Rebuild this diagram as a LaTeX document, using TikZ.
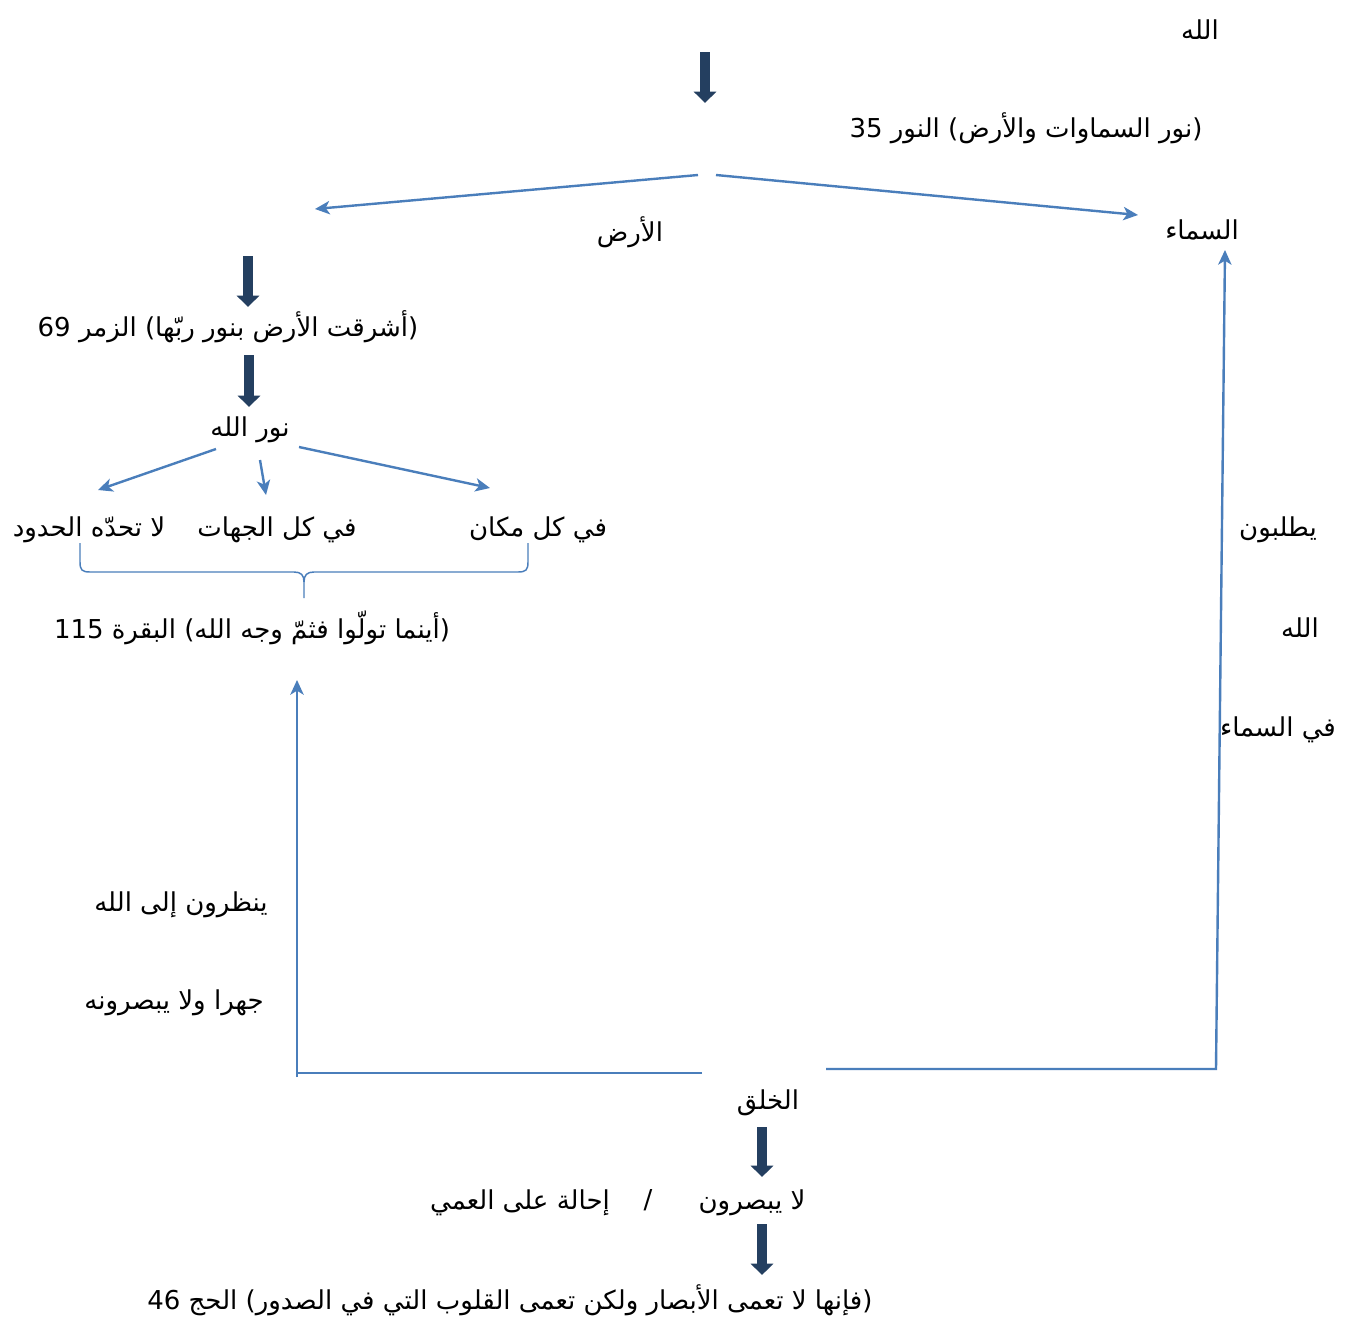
\documentclass[tikz,border=0pt]{standalone}
\usepackage{fontspec}
\newfontfamily\arabicfont[Script=Arabic]{DejaVu Sans}
\TeXXeTstate=1
\usetikzlibrary{arrows.meta}
\definecolor{lineblue}{HTML}{4A7EBB}
\definecolor{darknavy}{HTML}{243F60}
\begin{document}
\begin{tikzpicture}[x=0.75pt,y=-0.75pt,
  txt/.style={inner sep=0pt,font=\arabicfont\fontsize{19.5}{23}\selectfont},
  bigarrow/.style={draw=darknavy,line width=7.5pt,-{Triangle[width=16.5pt,length=8.5pt]}},
  bluearrow/.style={draw=lineblue,line width=1.8pt,-{Stealth[width=10pt,length=11pt,inset=3pt]}},
  blueline/.style={draw=lineblue,line width=1.8pt},
  bracestyle/.style={draw=lineblue,line width=1.1pt}]
\useasboundingbox[fill=white] (0,0) rectangle (1354,1332);
% texts
\node[txt] (allahtop) at (1200,30) {\beginR الله\endR};
\node[txt] (q35) at (1026,128) {\beginR (نور السماوات والأرض) النور 35\endR};
\node[txt] (ard) at (630,232) {\beginR الأرض\endR};
\node[txt] (sama) at (1202,230) {\beginR السماء\endR};
\node[txt] (q69) at (228,327) {\beginR (أشرقت الأرض بنور ربّها) الزمر 69\endR};
\node[txt] (nurallah) at (250,430) {\beginR نور الله\endR};
\node[txt] (l1) at (89,530) {\beginR لا تحدّه الحدود\endR};
\node[txt] (l2) at (277,530) {\beginR في كل الجهات\endR};
\node[txt] (l3) at (538,530) {\beginR في كل مكان\endR};
\node[txt] (q115) at (252,628) {\beginR (أينما تولّوا فثمّ وجه الله) البقرة 115\endR};
\node[txt,anchor=east] (yanzur) at (268,905) {\beginR ينظرون إلى الله\endR};
\node[txt,anchor=east] (jahran) at (264,1003) {\beginR جهرا ولا يبصرونه\endR};
\node[txt] (yatlub) at (1278,530) {\beginR يطلبون\endR};
\node[txt] (allahr) at (1300,628) {\beginR الله\endR};
\node[txt] (fissama) at (1278,730) {\beginR في السماء\endR};
\node[txt] (khalq) at (768,1103) {\beginR الخلق\endR};
\node[txt] (layubsir) at (752,1203) {\beginR لا يبصرون\endR};
\node[txt] (slash) at (648,1200) {/};
\node[txt] (ihala) at (520,1203) {\beginR إحالة على العمي\endR};
\node[txt] (q46) at (510,1300) {\beginR (فإنها لا تعمى الأبصار ولكن تعمى القلوب التي في الصدور) الحج 46\endR};
% connector end points
\coordinate (a1s) at (705,52);   \coordinate (a1e) at (705,103);
\coordinate (b1s) at (698,175);  \coordinate (b1e) at (315,209);
\coordinate (b2s) at (716,175);  \coordinate (b2e) at (1138,215);
\coordinate (a2s) at (248,256);  \coordinate (a2e) at (248,307);
\coordinate (a3s) at (249,355);  \coordinate (a3e) at (249,407);
\coordinate (c1s) at (216,449);  \coordinate (c1e) at (98,490);
\coordinate (c2s) at (260,460);  \coordinate (c2e) at (266,495);
\coordinate (c3s) at (299,447);  \coordinate (c3e) at (490,488);
\coordinate (lh1) at (702,1073); \coordinate (lh2) at (297,1073);
\coordinate (lvs) at (297,1077); \coordinate (lve) at (297,680);
\coordinate (rh1) at (826,1069); \coordinate (rh2) at (1216,1069);
\coordinate (rve) at (1225,250);
\coordinate (a4s) at (762,1127); \coordinate (a4e) at (762,1177);
\coordinate (a5s) at (762,1224); \coordinate (a5e) at (762,1275);
% dark arrows
\draw[bigarrow] (a1s) -- (a1e);
\draw[bigarrow] (a2s) -- (a2e);
\draw[bigarrow] (a3s) -- (a3e);
\draw[bigarrow] (a4s) -- (a4e);
\draw[bigarrow] (a5s) -- (a5e);
% blue arrows
\draw[bluearrow] (b1s) -- (b1e);
\draw[bluearrow] (b2s) -- (b2e);
\draw[bluearrow] (c1s) -- (c1e);
\draw[bluearrow] (c2s) -- (c2e);
\draw[bluearrow] (c3s) -- (c3e);
\draw[blueline] (lh1) -- (lh2);
\draw[bluearrow] (lvs) -- (lve);
\draw[bluearrow] (rh1) -- (rh2) -- (rve);
% brace
\draw[bracestyle] (80,543) -- (80,562) .. controls (80,570) and (82,572) .. (90,572)
  -- (294,572) .. controls (301,572) and (304,575) .. (304,582) -- (304,598);
\draw[bracestyle] (528,543) -- (528,562) .. controls (528,570) and (526,572) .. (518,572)
  -- (314,572) .. controls (307,572) and (304,575) .. (304,582);
\end{tikzpicture}
\end{document}
